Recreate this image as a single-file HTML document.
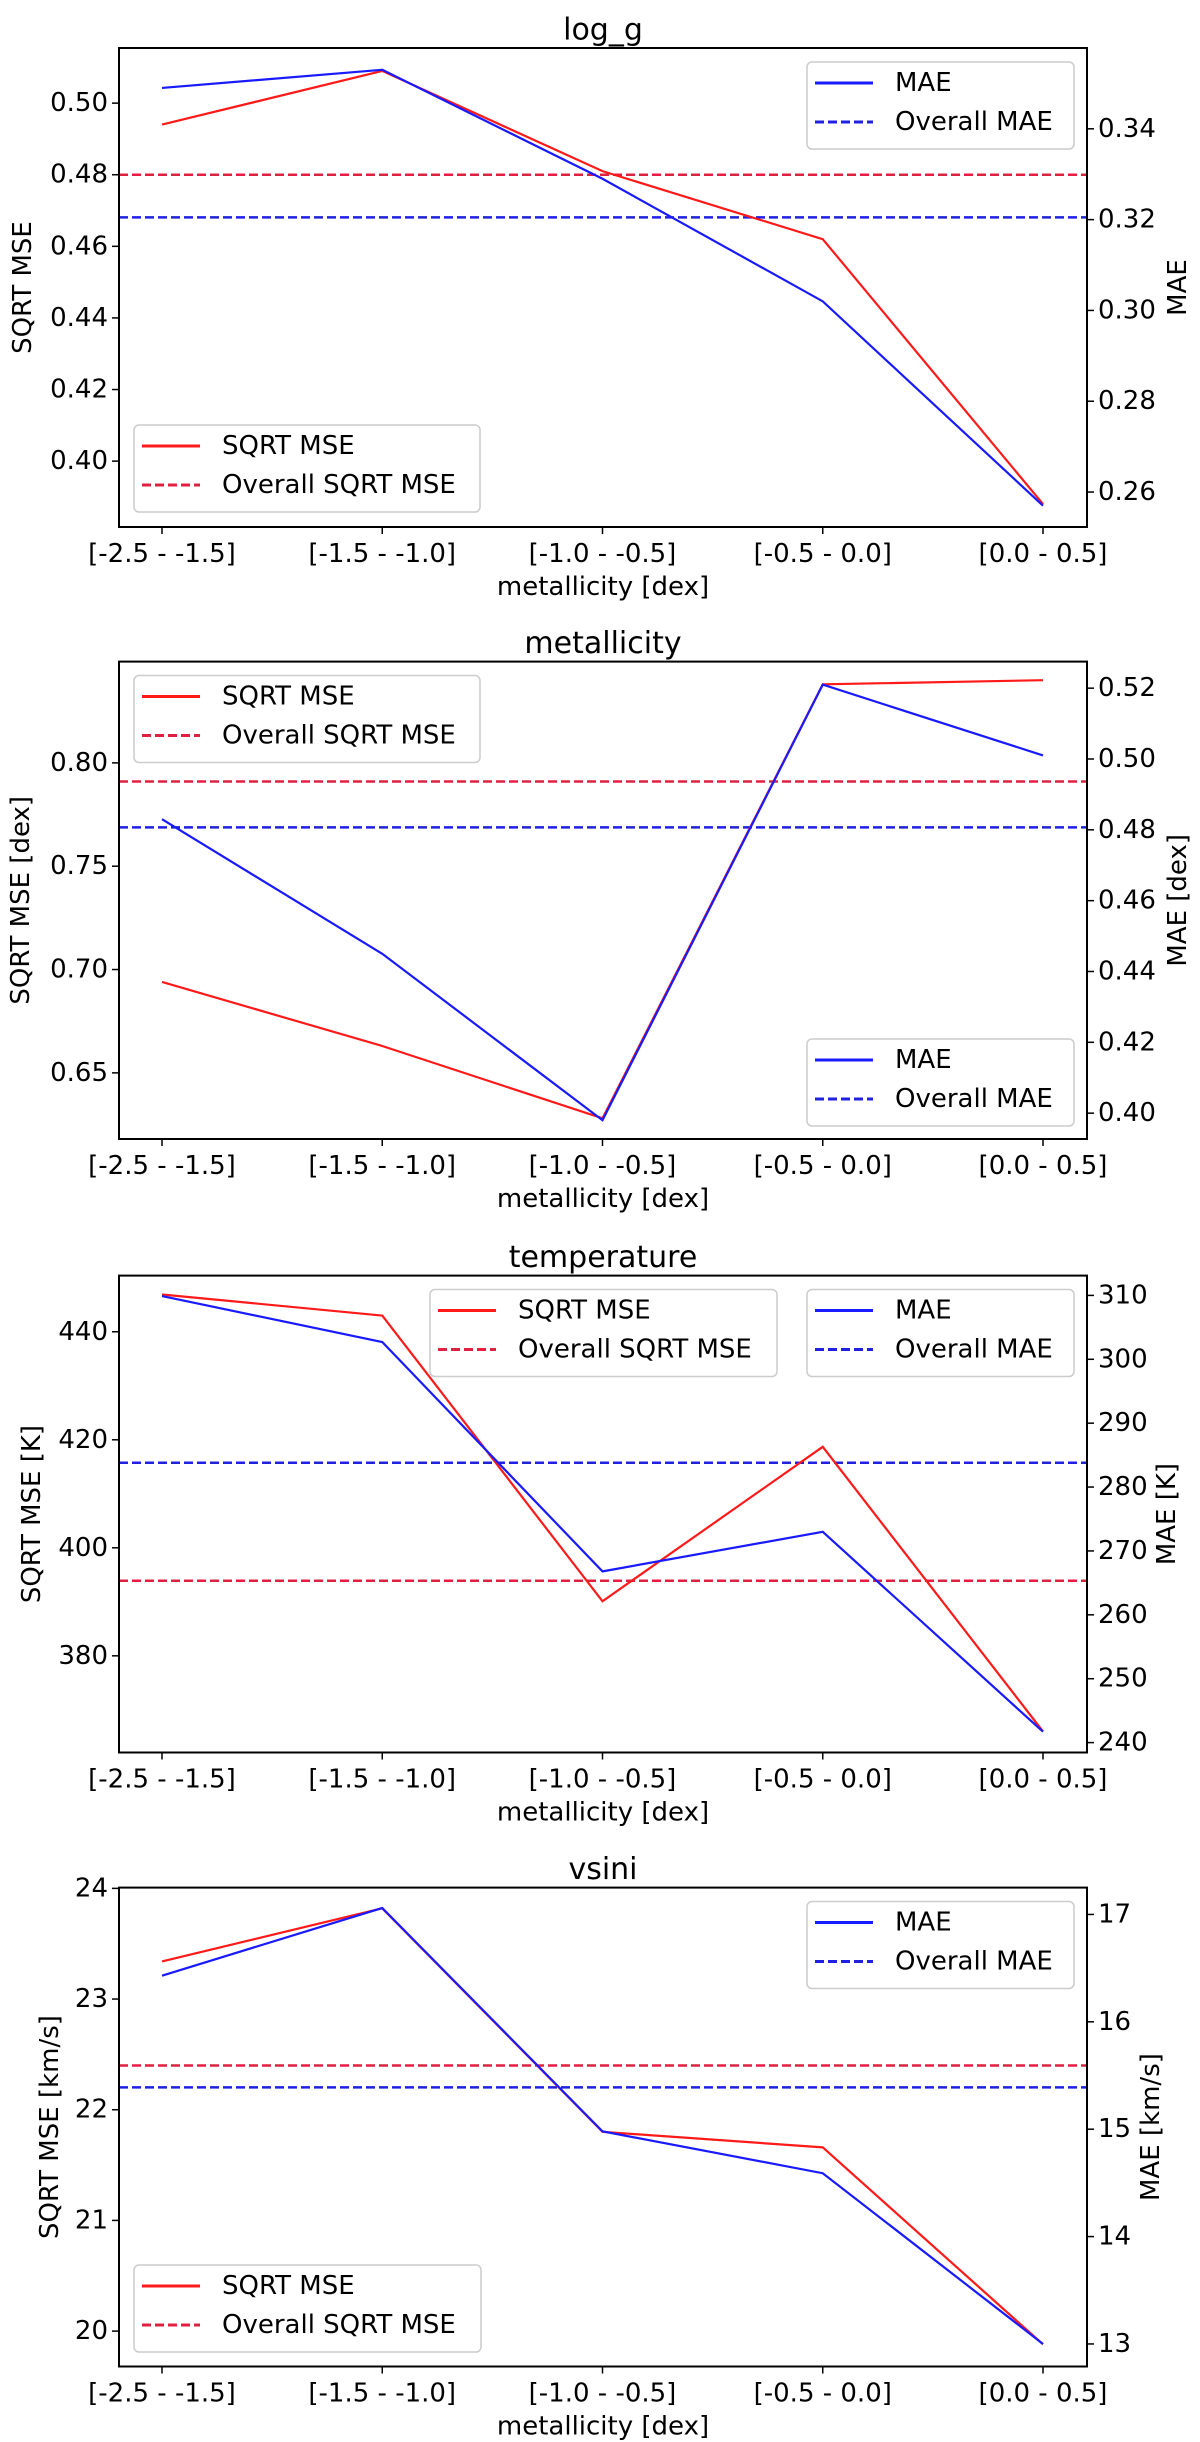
<!DOCTYPE html>
<html><head><meta charset="utf-8"><style>
html,body{margin:0;padding:0;background:#fff;}
svg{display:block;font-family:"DejaVu Sans","Liberation Sans",sans-serif;}
</style></head><body>
<svg id="chart" width="1200" height="2442" viewBox="0 0 1200 2442" xmlns="http://www.w3.org/2000/svg"></svg>
<script>
const categories = ["[-2.5 - -1.5]","[-1.5 - -1.0]","[-1.0 - -0.5]","[-0.5 - 0.0]","[0.0 - 0.5]"];
const titles = ["log_g","metallicity","temperature","vsini"];
const leftLabels = ["SQRT MSE","SQRT MSE [dex]","SQRT MSE [K]","SQRT MSE [km/s]"];
const rightLabels = ["MAE","MAE [dex]","MAE [K]","MAE [km/s]"];
const sqrtLogg = [0.494,0.509,0.481,0.462,0.388];
const maeLogg = [0.349,0.353,0.329,0.302,0.257];
const sqrtMet = [0.694,0.663,0.628,0.838,0.840];
const maeMet = [0.483,0.445,0.398,0.521,0.501];
const sqrtTemp = [446.9,443.0,390.1,418.7,366.0];
const maeTemp = [309.9,302.7,266.8,273.0,241.7];
const sqrtVs = [23.34,23.82,21.80,21.66,19.88];
const maeVs = [16.43,17.06,14.98,14.59,13.0];
const overallSqrt = [0.480,0.791,393.9,22.40];
const overallMae = [0.3205,0.4807,283.8,15.39];
const leftTicks = [[0.40,0.42,0.44,0.46,0.48,0.50],[0.65,0.70,0.75,0.80],[380,400,420,440],[20,21,22,23,24]];
const leftTickLabels = [["0.40","0.42","0.44","0.46","0.48","0.50"],["0.65","0.70","0.75","0.80"],["380","400","420","440"],["20","21","22","23","24"]];
const rightTicks = [[0.26,0.28,0.30,0.32,0.34],[0.40,0.42,0.44,0.46,0.48,0.50,0.52],[240,250,260,270,280,290,300,310],[13,14,15,16,17]];
const rightTickLabels = [["0.26","0.28","0.30","0.32","0.34"],["0.40","0.42","0.44","0.46","0.48","0.50","0.52"],["240","250","260","270","280","290","300","310"],["13","14","15","16","17"]];
const leftLim = [[0.3816,0.5154],[0.618,0.849],[362.1,450.4],[19.68,24.007]];
const rightLim = [[0.2523,0.3578],[0.3927,0.5275],[238.45,313.1],[12.79,17.25]];

const sqrtSeries=[sqrtLogg,sqrtMet,sqrtTemp,sqrtVs];
const maeSeries=[maeLogg,maeMet,maeTemp,maeVs];
// layout
const axTop=[48,661.6,1275.6,1887.6], axBot=[527,1139,1752.5,2366.5];
const AX_L=119, AX_R=1087;
const leftLabelX=[23,21,32,50], rightLabelX=[1178,1178,1167,1151];
// legend positions: [sqrtX, sqrtY, maeX, maeY]
const legPos=[[134,425,807,62],[134,675.5,807,1039],[430,1289.5,807,1289.5],[134,2265,807,1901.5]];
const legW=[346,346,347,347];
const RED="#ff1a1a", BLUE="#1a1aff", RDASH="#e02040", BDASH="#2020e0";
const svg=document.getElementById('chart');
const NS="http://www.w3.org/2000/svg";
function mk(tag,attrs,parent){const e=document.createElementNS(NS,tag);for(const k in attrs)e.setAttribute(k,attrs[k]);(parent||svg).appendChild(e);return e;}
function txt(s,x,y,size,anchor,parent,extra){const t=mk('text',Object.assign({x:x,y:y,'font-size':size,'text-anchor':anchor||'middle','dominant-baseline':'central',fill:'#000'},extra||{}),parent);t.textContent=s;return t;}
function xScale(i){return 162+i*(1043-162)/4;}

for(let p=0;p<4;p++){
  const g=mk('g',{});
  
  
  const top=axTop[p], bot=axBot[p];
  const yl=v=>bot-(v-leftLim[p][0])/(leftLim[p][1]-leftLim[p][0])*(bot-top);
  const yr=v=>bot-(v-rightLim[p][0])/(rightLim[p][1]-rightLim[p][0])*(bot-top);
  const t=txt(titles[p],603,top-18,30,'middle',g);
  
  
  // x ticks
  categories.forEach((c,i)=>{
    const x=xScale(i);
    mk('line',{x1:x,x2:x,y1:bot,y2:bot+7,stroke:'#000','stroke-width':1.5},g);
    const l=txt(c,x,bot+27,26,'middle',g);
    
    
  });
  const xl=txt('metallicity [dex]',603,bot+60,26,'middle',g);
  
  
  leftTicks[p].forEach((v,i)=>{
    const y=yl(v);
    mk('line',{x1:AX_L-7,x2:AX_L,y1:y,y2:y,stroke:'#000','stroke-width':1.5},g);
    const l=txt(leftTickLabels[p][i],AX_L-11,y,26,'end',g);
    
    
  });
  rightTicks[p].forEach((v,i)=>{
    const y=yr(v);
    mk('line',{x1:AX_R,x2:AX_R+7,y1:y,y2:y,stroke:'#000','stroke-width':1.5},g);
    const l=txt(rightTickLabels[p][i],AX_R+11,y,26,'start',g);
    
    
  });
  const cy=(top+bot)/2;
  const ll=txt(leftLabels[p],leftLabelX[p],cy,26,'middle',g,{transform:`rotate(-90 ${leftLabelX[p]} ${cy})`});
  
  
  const rl=txt(rightLabels[p],rightLabelX[p],cy,26,'middle',g,{transform:`rotate(-90 ${rightLabelX[p]} ${cy})`});
  
  
  // overall lines
  const os=mk('line',{x1:AX_L,x2:AX_R,y1:yl(overallSqrt[p]),y2:yl(overallSqrt[p]),stroke:RDASH,'stroke-width':2.5,'stroke-dasharray':'9 4'},g);
  
  
  const om=mk('line',{x1:AX_L,x2:AX_R,y1:yr(overallMae[p]),y2:yr(overallMae[p]),stroke:BDASH,'stroke-width':2.5,'stroke-dasharray':'9 4'},g);
  
  
  const sp=mk('polyline',{points:sqrtSeries[p].map((v,i)=>xScale(i)+','+yl(v)).join(' '),fill:'none',stroke:RED,'stroke-width':2.2},g);
  
  
  const mp=mk('polyline',{points:maeSeries[p].map((v,i)=>xScale(i)+','+yr(v)).join(' '),fill:'none',stroke:BLUE,'stroke-width':2.2},g);
  
  
  // frame
  mk('rect',{x:AX_L,y:top,width:AX_R-AX_L,height:bot-top,fill:'none',stroke:'#000','stroke-width':2},g);
  // legends
  const L=legPos[p];
  const lg1=mk('g',{},g);
  
  
  mk('rect',{x:L[0],y:L[1],width:legW[p],height:87,rx:5,fill:'#fff','fill-opacity':0.85,stroke:'#ccc','stroke-width':1.5},lg1);
  mk('line',{x1:L[0]+8,x2:L[0]+66,y1:L[1]+21,y2:L[1]+21,stroke:RED,'stroke-width':3},lg1);
  mk('line',{x1:L[0]+8,x2:L[0]+66,y1:L[1]+60,y2:L[1]+60,stroke:RDASH,'stroke-width':3,'stroke-dasharray':'9 4'},lg1);
  txt('SQRT MSE',L[0]+88,L[1]+21,26,'start',lg1);
  txt('Overall SQRT MSE',L[0]+88,L[1]+60,26,'start',lg1);
  const lg2=mk('g',{},g);
  
  
  mk('rect',{x:L[2],y:L[3],width:267,height:87,rx:5,fill:'#fff','fill-opacity':0.85,stroke:'#ccc','stroke-width':1.5},lg2);
  mk('line',{x1:L[2]+8,x2:L[2]+66,y1:L[3]+21,y2:L[3]+21,stroke:BLUE,'stroke-width':3},lg2);
  mk('line',{x1:L[2]+8,x2:L[2]+66,y1:L[3]+60,y2:L[3]+60,stroke:BDASH,'stroke-width':3,'stroke-dasharray':'9 4'},lg2);
  txt('MAE',L[2]+88,L[3]+21,26,'start',lg2);
  txt('Overall MAE',L[2]+88,L[3]+60,26,'start',lg2);
}
</script>
</body></html>
